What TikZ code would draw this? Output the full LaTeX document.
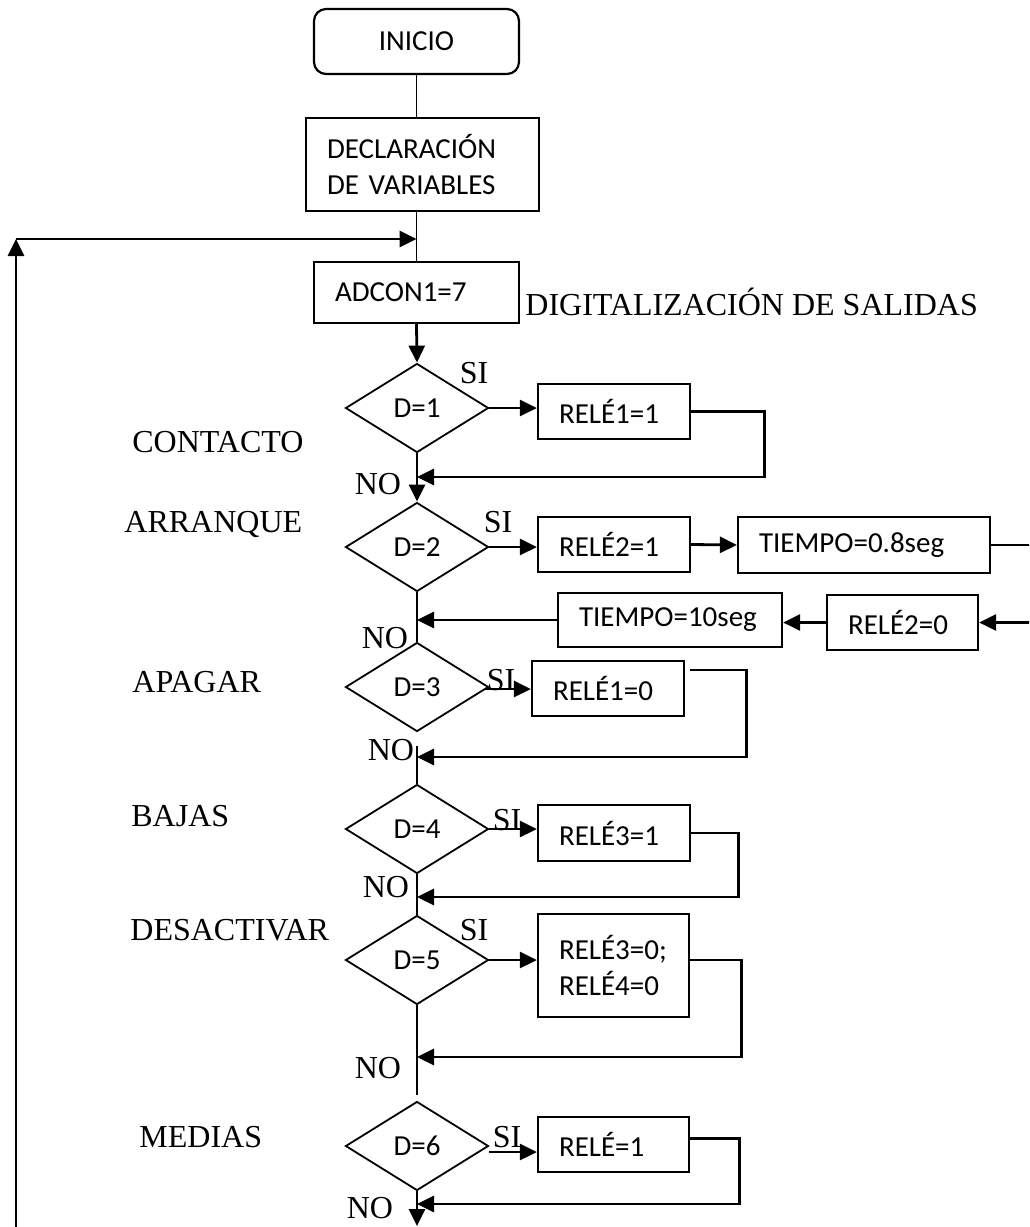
\documentclass[tikz,border=0pt]{standalone}
\usepackage{fontspec}
\setmainfont{Liberation Serif}
\newfontfamily\calib{Carlito}
\usetikzlibrary{shapes.geometric,arrows.meta,calc}
\begin{document}
\begin{tikzpicture}[x=0.5pt,y=-0.5pt,
  box/.style={draw, line width=1.1pt, font=\calib\fontsize{14.5}{18}\selectfont,
    align=left, inner xsep=10.5pt, inner ysep=0pt, minimum height=27.5pt},
  dia/.style={draw, diamond, aspect=1.6, minimum width=71.5pt, minimum height=44.5pt,
    inner sep=0pt, line width=0.9pt, font=\calib\fontsize{14.5}{18}\selectfont},
  lbl/.style={font=\fontsize{16}{19}\selectfont, inner sep=0pt},
  flow/.style={line width=1.4pt, -{Triangle[length=8.5pt,width=8pt]}},
  link/.style={line width=1.4pt},
  spine/.style={line width=0.9pt}]

\useasboundingbox (0,0) rectangle (1029,1227);
\clip (0,0) rectangle (1029,1227);

% main column
\node[draw, line width=1.1pt, rounded corners=6pt, minimum width=102.5pt, minimum height=32.5pt,
  font=\calib\fontsize{14.5}{18}\selectfont] (inicio) at (416.5,41.5) {INICIO};
\node[box, text width=95.5pt, minimum height=46.5pt] (decl) at (422.5,164.5) {DECLARACIÓN\\DE VARIABLES};
\node[box, text width=81.5pt, minimum height=30.5pt] (adcon) at (416.5,292.5) {ADCON1=7};

\node[dia] (d1) at (417,408) {D=1};
\node[dia] (d2) at (417,547) {D=2};
\node[dia] (d3) at (417,687) {D=3};
\node[dia] (d4) at (417,829) {D=4};
\node[dia] (d5) at (417,960) {D=5};
\node[dia] (d6) at (417,1146) {D=6};

% action boxes
\node[box, text width=55pt] (r11) at (614,411.5) {RELÉ1=1};
\node[box, text width=55pt] (r21) at (614,544.5) {RELÉ2=1};
\node[box, text width=105pt, minimum height=28pt] (t08) at (864,545) {TIEMPO=0.8seg};
\node[box, text width=91pt, minimum height=27pt] (t10) at (670,620) {TIEMPO=10seg};
\node[box, text width=54.5pt] (r20) at (902.5,622.5) {RELÉ2=0};
\node[box, text width=55pt] (r10) at (608,688.5) {RELÉ1=0};
\node[box, text width=55pt, minimum height=28pt] (r31) at (614,833) {RELÉ3=1};
\node[box, text width=54.5pt, minimum height=51.5pt] (r30) at (613.5,965.5) {RELÉ3=0;\\RELÉ4=0};
\node[box, text width=54.5pt] (r1) at (613.5,1144.5) {RELÉ=1};

% side labels
\node[lbl, anchor=base west] (digi) at (525,315) {DIGITALIZACIÓN DE SALIDAS};
\node[lbl, anchor=base west] (lcon) at (132,452) {CONTACTO};
\node[lbl, anchor=base west] (larr) at (124,532) {ARRANQUE};
\node[lbl, anchor=base west] (lapa) at (132,692) {APAGAR};
\node[lbl, anchor=base west] (lbaj) at (131,826) {BAJAS};
\node[lbl, anchor=base west] (ldes) at (130,940) {DESACTIVAR};
\node[lbl, anchor=base west] (lmed) at (139,1147) {MEDIAS};

\node[lbl, anchor=base] (si1) at (474,383) {SI};
\node[lbl, anchor=base] (si2) at (498,532) {SI};
\node[lbl, anchor=base] (si3) at (501,690) {SI};
\node[lbl, anchor=base] (si4) at (507,830) {SI};
\node[lbl, anchor=base] (si5) at (474,940) {SI};
\node[lbl, anchor=base] (si6) at (507,1147) {SI};
\node[lbl, anchor=base] (no1) at (378,494) {NO};
\node[lbl, anchor=base] (no2) at (385,648) {NO};
\node[lbl, anchor=base] (no3) at (391,760) {NO};
\node[lbl, anchor=base] (no4) at (386,897) {NO};
\node[lbl, anchor=base] (no5) at (378,1078) {NO};
\node[lbl, anchor=base] (no6) at (370,1218) {NO};

% junctions on the main column
\coordinate (j1) at (417,477);
\coordinate (j2) at (d2 |- t10.west);
\coordinate (j3) at (417,757);
\coordinate (j4) at (417,897);
\coordinate (j5) at (417,1057);
\coordinate (j6) at (417,1204);
\coordinate (bot) at (417,1226);
\coordinate (lb) at (16,1227);
\coordinate (lc) at (16,239);
\coordinate (et) at (1045,545);

% main column connectors
\draw[spine] (inicio.south) -- (inicio.south |- decl.north);
\draw[spine] (decl.south -| adcon.north) -- (adcon.north);
\draw[flow] (adcon.south) -- (d1.north);
\draw[flow] (d1.south) -- (d2.north);
\draw[spine] (d2.south) -- (d3.north);
\draw[spine, shorten <=7] (d3.south) -- (d4.north);
\draw[spine] (d4.south) -- (d5.north);
\draw[spine, shorten >=3] (d5.south) -- (d6.north);
\draw[flow] (d6.south) -- (bot);

% loop back to the start
\draw[flow] (lb) -- (lc);
\draw[flow] (lc) -- (lc -| adcon.north);

% D=1
\draw[flow] (d1.east) -- (d1.east -| r11.west);
\draw[flow] (r11.east) -- ++(73,0) |- (j1);

% D=2
\draw[flow] (d2.east) -- (d2.east -| r21.west);
\draw[flow] (r21.east) -- (t08.west);
\draw[link] (t08.east) -- (et);
\draw[flow] (et) |- (r20.east);
\draw[flow] (r20.west) -- (r20.west -| t10.east);
\draw[flow] (t10.west) -- (j2);

% D=3
\draw[flow] ($(d3.east)+(-4,2)$) -- ($(d3.east -| r10.west)+(0,2)$);
\draw[flow] ($(r10.north east)+(5,10)$) -- ++(56,0) |- (j3);

% D=4
\draw[flow] (d4.east) -- (d4.east -| r31.west);
\draw[flow] (r31.east) -- ++(47,0) |- (j4);

% D=5
\draw[flow] (d5.east) -- (d5.east -| r30.west);
\draw[flow] (r30.east |- d5.east) -- ++(51,0) |- (j5);

% D=6
\draw[flow] ($(d6.east)+(0,6)$) -- ($(d6.east -| r1.west)+(0,6)$);
\draw[flow] ($(r1.east)+(0,-6)$) -- ++(49,0) |- (j6);

\end{tikzpicture}
\end{document}
